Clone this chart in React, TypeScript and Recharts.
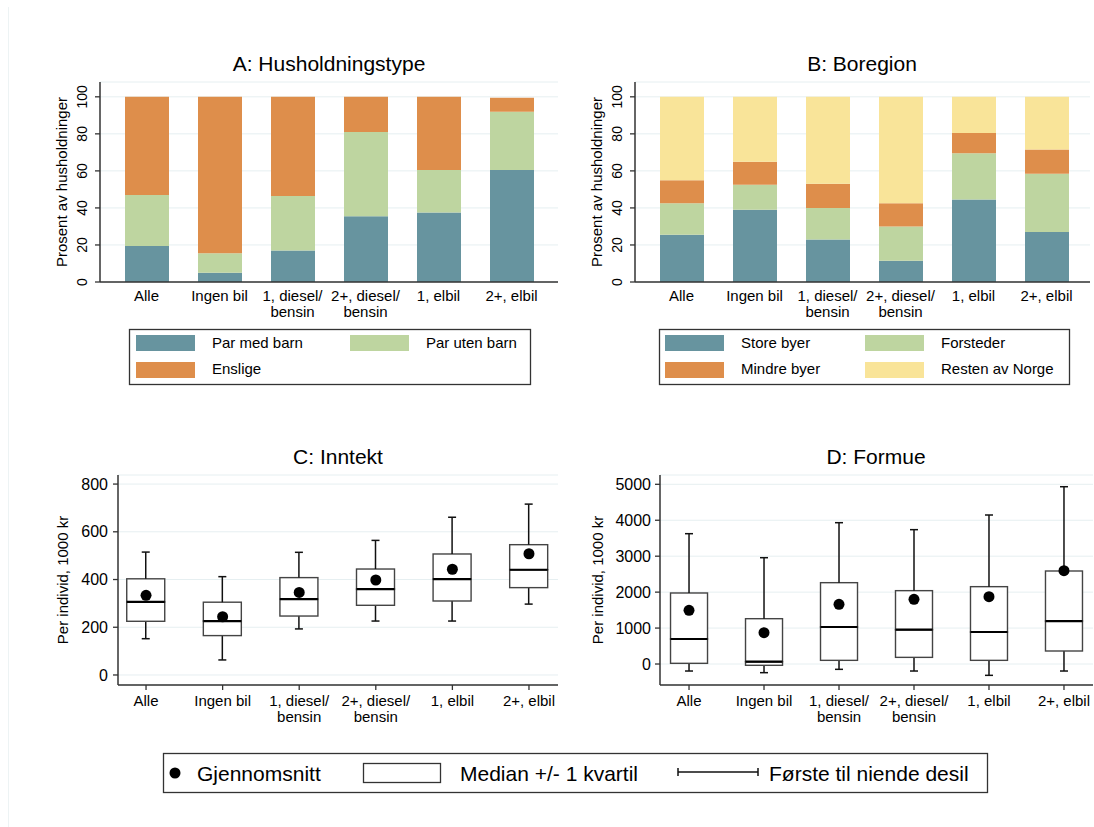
import React from "react";
import {
  BarChart,
  Bar,
  ComposedChart,
  Scatter,
  XAxis,
  YAxis,
  CartesianGrid,
} from "recharts";

document.body.style.margin = "0";

const FONT = '"Liberation Sans", Arial, Helvetica, sans-serif';
const GRID = "#e6eff1";
const AXIS = "#333333";

const COLORS = {
  teal: "#67949f",
  green: "#bed5a0",
  orange: "#de8e4b",
  yellow: "#f9e499",
};

const categories = [
  "Alle",
  "Ingen bil",
  "1, diesel/\nbensin",
  "2+, diesel/\nbensin",
  "1, elbil",
  "2+, elbil",
];

// A: Husholdningstype (prosent)
const parMedBarn = [19.5, 5, 17, 35.5, 37.5, 60.5];
const parUtenBarn = [27.5, 10.5, 29.5, 45.5, 23, 31.5];
const enslige = [53, 84.5, 53.5, 19, 39.5, 7.5];

// B: Boregion (prosent)
const storeByer = [25.5, 39, 23, 11.5, 44.5, 27];
const forsteder = [17, 13.5, 17, 18.5, 25, 31.5];
const mindreByer = [12.5, 12.5, 13, 12.5, 11, 13];
const restenAvNorge = [45, 35, 47, 57.5, 19.5, 28.5];

// C: Inntekt (1000 kr)
const inntektP10 = [152, 63, 193, 226, 226, 297];
const inntektQ1 = [225, 165, 247, 292, 310, 366];
const inntektMedian = [306, 226, 318, 360, 402, 441];
const inntektQ3 = [403, 305, 408, 444, 507, 546];
const inntektP90 = [515, 412, 514, 564, 661, 716];
const inntektMean = [334, 244, 346, 398, 443, 508];

// D: Formue (1000 kr)
const formueP10 = [-195, -241, -148, -195, -315, -195];
const formueQ1 = [19, -36, 102, 185, 102, 362];
const formueMedian = [696, 64, 1030, 955, 890, 1196];
const formueQ3 = [1976, 1261, 2263, 2041, 2152, 2588];
const formueP90 = [3626, 2958, 3932, 3738, 4146, 4933];
const formueMean = [1494, 872, 1660, 1799, 1873, 2597];

const pctTicks = [0, 20, 40, 60, 80, 100];
const inntektTicks = [0, 200, 400, 600, 800];
const formueTicks = [0, 1000, 2000, 3000, 4000, 5000];
const catIndexTicks = [0, 1, 2, 3, 4, 5];

const tableA = categories.map((label, i) => ({
  label,
  parMedBarn: parMedBarn[i],
  parUtenBarn: parUtenBarn[i],
  enslige: enslige[i],
}));

const tableB = categories.map((label, i) => ({
  label,
  storeByer: storeByer[i],
  forsteder: forsteder[i],
  mindreByer: mindreByer[i],
  resten: restenAvNorge[i],
}));

// stacked segments for the box plots
const boxTable = (
  p10: number[],
  q1: number[],
  med: number[],
  q3: number[],
  p90: number[],
  mean: number[]
) =>
  categories.map((label, i) => ({
    x: i,
    label,
    base: p10[i],
    lowW: q1[i] - p10[i],
    lowBox: med[i] - q1[i],
    highBox: q3[i] - med[i],
    highW: p90[i] - q3[i],
    mean: mean[i],
  }));

const tableC = boxTable(inntektP10, inntektQ1, inntektMedian, inntektQ3, inntektP90, inntektMean);
const tableD = boxTable(formueP10, formueQ1, formueMedian, formueQ3, formueP90, formueMean);

const CatTick = (props: any) => {
  const { x, y, payload } = props;
  const v = payload.value;
  const text = typeof v === "number" ? categories[v] ?? "" : String(v);
  const lines = text.split("\n");
  return (
    <text x={x} y={y} textAnchor="middle" fontSize={15} fill="#000">
      {lines.map((l, i) => (
        <tspan key={i} x={x} dy={i === 0 ? "0.71em" : 16}>
          {l}
        </tspan>
      ))}
    </text>
  );
};

const RotTick = (props: any) => {
  const { x, y, payload } = props;
  return (
    <text
      x={x}
      y={y}
      transform={`rotate(-90 ${x} ${y})`}
      textAnchor="middle"
      fontSize={14}
      fill="#000"
    >
      {payload.value}
    </text>
  );
};

const span = (props: any) => {
  const { x, y, width, height } = props;
  const top = Math.min(y, y + height);
  const bot = Math.max(y, y + height);
  return { x, width, top, bot, cx: x + width / 2 };
};

const LowWhisker = (props: any) => {
  const s = span(props);
  return (
    <g>
      <line x1={s.cx} x2={s.cx} y1={s.top} y2={s.bot} stroke="#111" strokeWidth={1.5} />
      <line x1={s.cx - 4} x2={s.cx + 4} y1={s.bot} y2={s.bot} stroke="#111" strokeWidth={1.5} />
    </g>
  );
};

const HighWhisker = (props: any) => {
  const s = span(props);
  return (
    <g>
      <line x1={s.cx} x2={s.cx} y1={s.top} y2={s.bot} stroke="#111" strokeWidth={1.5} />
      <line x1={s.cx - 4} x2={s.cx + 4} y1={s.top} y2={s.top} stroke="#111" strokeWidth={1.5} />
    </g>
  );
};

const LowBox = (props: any) => {
  const s = span(props);
  return (
    <rect x={s.x} y={s.top} width={s.width} height={s.bot - s.top} fill="#fff" stroke="#444" strokeWidth={1.4} />
  );
};

const HighBox = (props: any) => {
  const s = span(props);
  return (
    <g>
      <rect x={s.x} y={s.top} width={s.width} height={s.bot - s.top} fill="#fff" stroke="#444" strokeWidth={1.4} />
      <line x1={s.x} x2={s.x + s.width} y1={s.bot} y2={s.bot} stroke="#000" strokeWidth={2.2} />
    </g>
  );
};

const Nothing = () => <g />;

const MeanDot = (props: any) => <circle cx={props.cx} cy={props.cy} r={5.5} fill="#000" />;

type BoxPanelProps = {
  data: any[];
  left: number;
  width: number;
  marginLeft: number;
  marginRight: number;
  yWidth: number;
  yDomain: [number, number];
  xDomain: [number, number];
  ticks: number[];
  barSize: number;
  tickMargin: number;
};

const BoxPanel = (p: BoxPanelProps) => (
  <div style={{ position: "absolute", left: p.left, top: 440 }}>
    <ComposedChart
      width={p.width}
      height={290}
      data={p.data}
      margin={{ top: 35, right: p.marginRight, bottom: 0, left: p.marginLeft }}
    >
      <CartesianGrid vertical={false} stroke={GRID} strokeWidth={1} />
      <XAxis
        type="number"
        dataKey="x"
        domain={p.xDomain}
        allowDataOverflow
        ticks={catIndexTicks}
        interval={0}
        height={45}
        tickSize={5}
        tickMargin={5}
        tickLine={{ stroke: AXIS, strokeWidth: 1.3 }}
        axisLine={{ stroke: AXIS, strokeWidth: 1.5 }}
        tick={<CatTick />}
      />
      <YAxis
        type="number"
        domain={p.yDomain}
        allowDataOverflow
        ticks={p.ticks}
        interval={0}
        width={p.yWidth}
        tickSize={5}
        tickMargin={p.tickMargin}
        tickLine={{ stroke: AXIS, strokeWidth: 1.3 }}
        axisLine={{ stroke: AXIS, strokeWidth: 1.5 }}
        tick={{ fontSize: 16, fill: "#000" }}
        label={{
          value: "Per individ, 1000 kr",
          angle: -90,
          position: "insideLeft",
          offset: 13,
          fontSize: 15,
          fill: "#000",
          style: { textAnchor: "middle" },
        }}
      />
      <Bar dataKey="base" stackId="box" barSize={p.barSize} shape={<Nothing />} isAnimationActive={false} />
      <Bar dataKey="lowW" stackId="box" barSize={p.barSize} shape={<LowWhisker />} isAnimationActive={false} />
      <Bar dataKey="lowBox" stackId="box" barSize={p.barSize} shape={<LowBox />} isAnimationActive={false} />
      <Bar dataKey="highBox" stackId="box" barSize={p.barSize} shape={<HighBox />} isAnimationActive={false} />
      <Bar dataKey="highW" stackId="box" barSize={p.barSize} shape={<HighWhisker />} isAnimationActive={false} />
      <Scatter dataKey="mean" shape={<MeanDot />} isAnimationActive={false} />
    </ComposedChart>
  </div>
);

type StackPanelProps = {
  data: any[];
  left: number;
  width: number;
  marginLeft: number;
  marginRight: number;
  padding: { left: number; right: number };
  labelOffset: number;
  series: { key: string; color: string }[];
};

const StackPanel = (p: StackPanelProps) => (
  <div style={{ position: "absolute", left: p.left, top: 40 }}>
    <BarChart
      width={p.width}
      height={290}
      data={p.data}
      barSize={44}
      margin={{ top: 42, right: p.marginRight, bottom: 0, left: p.marginLeft }}
    >
      <CartesianGrid vertical={false} stroke={GRID} strokeWidth={1} />
      <XAxis
        dataKey="label"
        interval={0}
        height={48}
        padding={p.padding}
        tickLine={false}
        tickSize={6}
        tickMargin={2}
        axisLine={{ stroke: AXIS, strokeWidth: 1.5 }}
        tick={<CatTick />}
      />
      <YAxis
        type="number"
        domain={[0, 108]}
        allowDataOverflow
        ticks={pctTicks}
        interval={0}
        width={60}
        tickSize={5}
        tickMargin={8}
        tickLine={{ stroke: AXIS, strokeWidth: 1.3 }}
        axisLine={{ stroke: AXIS, strokeWidth: 1.5 }}
        tick={<RotTick />}
        label={{
          value: "Prosent av husholdninger",
          angle: -90,
          position: "insideLeft",
          offset: p.labelOffset,
          fontSize: 15,
          fill: "#000",
          style: { textAnchor: "middle" },
        }}
      />
      {p.series.map((s) => (
        <Bar key={s.key} dataKey={s.key} stackId="a" fill={s.color} isAnimationActive={false} />
      ))}
    </BarChart>
  </div>
);

const legendA = [
  { name: "Par med barn", color: COLORS.teal },
  { name: "Par uten barn", color: COLORS.green },
  { name: "Enslige", color: COLORS.orange },
];

const legendB = [
  { name: "Store byer", color: COLORS.teal },
  { name: "Forsteder", color: COLORS.green },
  { name: "Mindre byer", color: COLORS.orange },
  { name: "Resten av Norge", color: COLORS.yellow },
];

const LegendBox = ({
  x,
  width,
  items,
  colX,
  textX,
}: {
  x: number;
  width: number;
  items: { name: string; color: string }[];
  colX: number[];
  textX: number[];
}) => (
  <g>
    <rect x={x + 0.5} y={329.5} width={width} height={55} fill="#fff" stroke={AXIS} strokeWidth={1.3} />
    {items.map((it, i) => {
      const col = i % 2;
      const row = Math.floor(i / 2);
      return (
        <g key={it.name}>
          <rect x={colX[col]} y={335 + row * 27} width={59} height={16} fill={it.color} />
          <text x={textX[col]} y={347.5 + row * 26.5} fontSize={15} fill="#000">
            {it.name}
          </text>
        </g>
      );
    })}
  </g>
);

export default function App() {
  return (
    <div
      style={{
        position: "relative",
        width: 1094,
        height: 827,
        background: "#fff",
        fontFamily: FONT,
        overflow: "hidden",
      }}
    >
      <StackPanel
        data={tableA}
        left={0}
        width={570}
        marginLeft={40}
        marginRight={12}
        padding={{ left: 10, right: 10 }}
        labelOffset={22}
        series={[
          { key: "parMedBarn", color: COLORS.teal },
          { key: "parUtenBarn", color: COLORS.green },
          { key: "enslige", color: COLORS.orange },
        ]}
      />
      <StackPanel
        data={tableB}
        left={575}
        width={519}
        marginLeft={0}
        marginRight={4}
        padding={{ left: 10, right: 7 }}
        labelOffset={22}
        series={[
          { key: "storeByer", color: COLORS.teal },
          { key: "forsteder", color: COLORS.green },
          { key: "mindreByer", color: COLORS.orange },
          { key: "resten", color: COLORS.yellow },
        ]}
      />
      <BoxPanel
        data={tableC}
        left={0}
        width={570}
        marginLeft={50}
        marginRight={12}
        yWidth={68}
        yDomain={[-42, 838]}
        xDomain={[-0.366, 5.379]}
        ticks={inntektTicks}
        barSize={38}
        tickMargin={5}
      />
      <BoxPanel
        data={tableD}
        left={575}
        width={519}
        marginLeft={10}
        marginRight={1}
        yWidth={75}
        yDomain={[-584, 5259]}
        xDomain={[-0.387, 5.387]}
        ticks={formueTicks}
        barSize={37}
        tickMargin={4}
      />
      <svg
        width={1094}
        height={827}
        style={{ position: "absolute", left: 0, top: 0, pointerEvents: "none" }}
      >
        <line x1={8.5} x2={8.5} y1={7} y2={827} stroke="#edf3f4" strokeWidth={1} />
        <text x={329} y={71} textAnchor="middle" fontSize={21} fill="#000">
          A: Husholdningstype
        </text>
        <text x={862} y={71} textAnchor="middle" fontSize={21} fill="#000">
          B: Boregion
        </text>
        <text x={338} y={464} textAnchor="middle" fontSize={21} fill="#000">
          C: Inntekt
        </text>
        <text x={876} y={464} textAnchor="middle" fontSize={21} fill="#000">
          D: Formue
        </text>
        <LegendBox x={129} width={401} items={legendA} colX={[136, 350]} textX={[212, 426]} />
        <LegendBox x={659} width={410} items={legendB} colX={[665, 865]} textX={[741, 941]} />
        <g>
          <rect x={163.5} y={753.5} width={824} height={39} fill="#fff" stroke={AXIS} strokeWidth={1.3} />
          <circle cx={175} cy={773} r={5.5} fill="#000" />
          <text x={197} y={781} fontSize={21} fill="#000">
            Gjennomsnitt
          </text>
          <rect x={363.5} y={763.5} width={77} height={19} fill="#fff" stroke={AXIS} strokeWidth={1.3} />
          <text x={460} y={781} fontSize={21} fill="#000">
            Median +/- 1 kvartil
          </text>
          <line x1={678} x2={758} y1={772} y2={772} stroke="#111" strokeWidth={1.5} />
          <line x1={678} x2={678} y1={768} y2={776} stroke="#111" strokeWidth={1.5} />
          <line x1={758} x2={758} y1={768} y2={776} stroke="#111" strokeWidth={1.5} />
          <text x={769} y={781} fontSize={21} fill="#000">
            Første til niende desil
          </text>
        </g>
      </svg>
    </div>
  );
}
